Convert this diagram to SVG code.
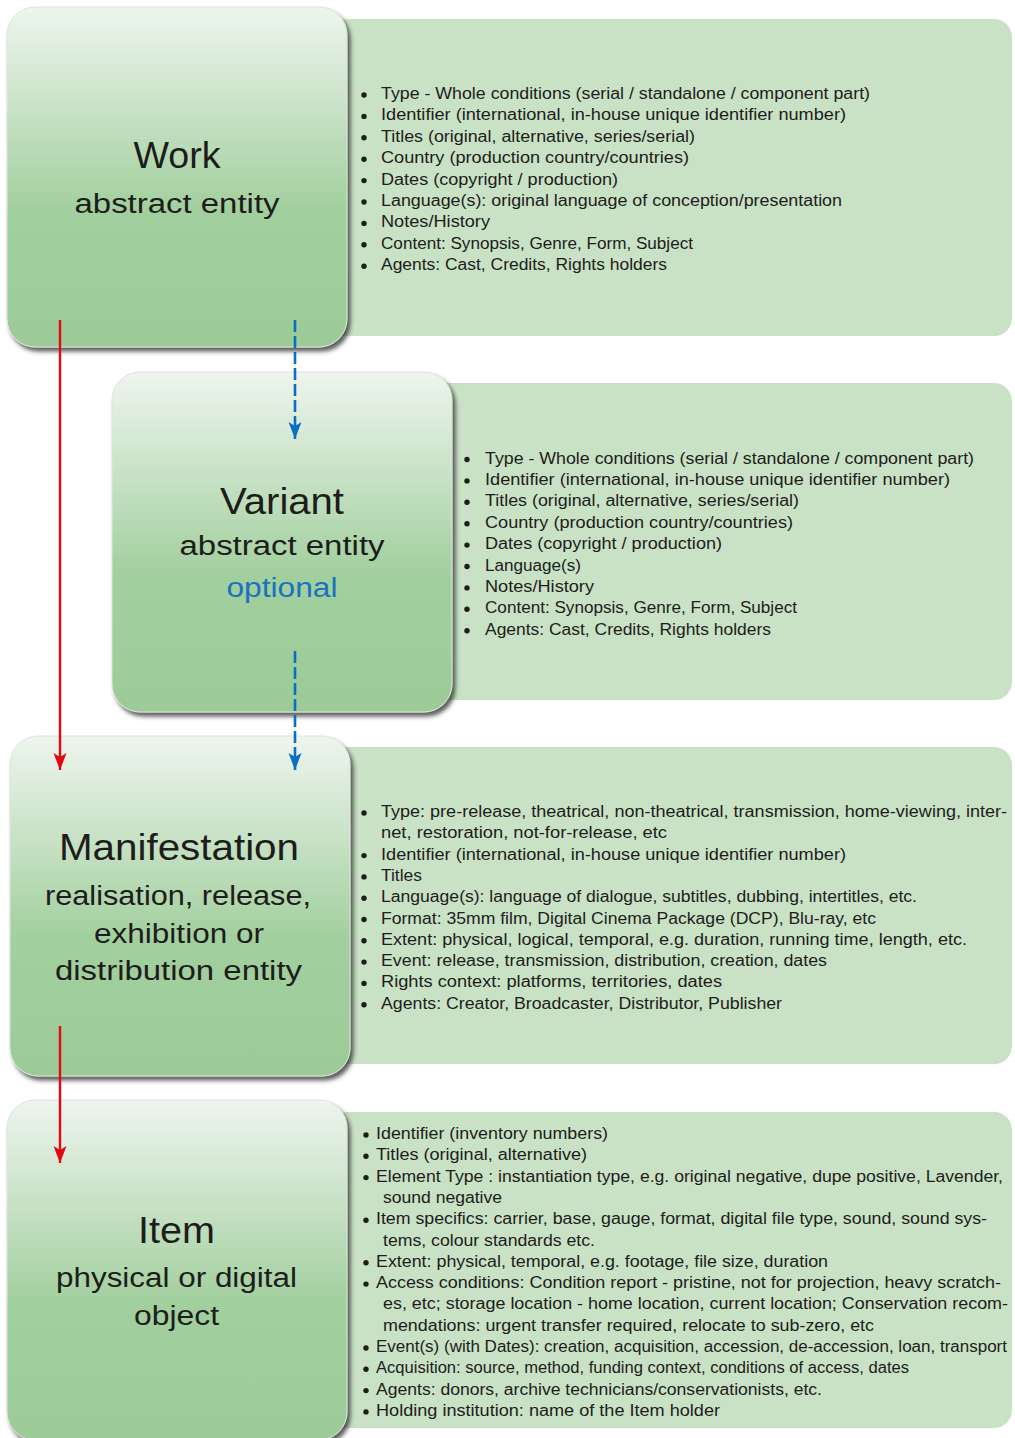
<svg xmlns="http://www.w3.org/2000/svg" width="1015" height="1438" viewBox="0 0 1015 1438">
<style>
.panel{fill:#c9e1c5}
.box{fill:url(#boxGrad);stroke:#dfe3df;stroke-width:1;filter:url(#shadow)}
.li{font-family:"Liberation Sans",Arial,sans-serif;font-size:16px;fill:#1d1d1b}
.t1{font-family:"Liberation Sans",Arial,sans-serif;font-size:36px;fill:#1d1d1b;text-anchor:middle}
.t2{font-family:"Liberation Sans",Arial,sans-serif;font-size:27px;fill:#1d1d1b;text-anchor:middle}
.opt{fill:#1a72c0}
.bul{fill:#1d1d1b}
.red{stroke:#e30613;stroke-width:2.4;fill:none;marker-end:url(#arrRed)}
.blue{stroke:#0a6ec2;stroke-width:2.6;stroke-dasharray:12 4;fill:none;marker-end:url(#arrBlue)}
</style>
<defs>
<linearGradient id="boxGrad" x1="0" y1="0" x2="0" y2="1">
<stop offset="0" stop-color="#eef5ee"/>
<stop offset="0.6" stop-color="#a2cf9e"/>
<stop offset="1" stop-color="#9ccb98"/>
</linearGradient>
<filter id="shadow" x="-10%" y="-10%" width="125%" height="125%">
<feDropShadow dx="3" dy="4" stdDeviation="2.2" flood-color="#2a2a2a" flood-opacity="0.75"/>
</filter>
<marker id="arrRed" markerUnits="userSpaceOnUse" markerWidth="18" markerHeight="14" refX="17" refY="7" orient="auto">
<path d="M0,0.5 L17,7 L0,13.5 L4,7 Z" fill="#e30613"/>
</marker>
<marker id="arrBlue" markerUnits="userSpaceOnUse" markerWidth="18" markerHeight="14" refX="17" refY="7" orient="auto">
<path d="M0,0.5 L17,7 L0,13.5 L4,7 Z" fill="#0a6ec2"/>
</marker>
</defs>
<rect width="1015" height="1438" fill="#ffffff"/>

<g id="work">
<rect class="panel" x="330" y="19" width="682" height="317" rx="18"/>
<rect class="box" x="7" y="7" width="340" height="340" rx="28"/>
<text class="t1" x="177" y="168" textLength="87" lengthAdjust="spacingAndGlyphs">Work</text>
<text class="t2" x="177" y="213" textLength="205" lengthAdjust="spacingAndGlyphs">abstract entity</text>
<g class="bul">
<circle cx="364" cy="95" r="2.7"/><circle cx="364" cy="116.4" r="2.7"/><circle cx="364" cy="137.8" r="2.7"/><circle cx="364" cy="159.2" r="2.7"/><circle cx="364" cy="180.6" r="2.7"/><circle cx="364" cy="202" r="2.7"/><circle cx="364" cy="223.4" r="2.7"/><circle cx="364" cy="244.8" r="2.7"/><circle cx="364" cy="266.2" r="2.7"/>
</g>
<text class="li" x="381" y="99" textLength="489" lengthAdjust="spacingAndGlyphs">Type - Whole conditions (serial / standalone / component part)</text>
<text class="li" x="381" y="120.4" textLength="465" lengthAdjust="spacingAndGlyphs">Identifier (international, in-house unique identifier number)</text>
<text class="li" x="381" y="141.8" textLength="314" lengthAdjust="spacingAndGlyphs">Titles (original, alternative, series/serial)</text>
<text class="li" x="381" y="163.2" textLength="308" lengthAdjust="spacingAndGlyphs">Country (production country/countries)</text>
<text class="li" x="381" y="184.6" textLength="237" lengthAdjust="spacingAndGlyphs">Dates (copyright / production)</text>
<text class="li" x="381" y="206" textLength="461" lengthAdjust="spacingAndGlyphs">Language(s): original language of conception/presentation</text>
<text class="li" x="381" y="227.4" textLength="109" lengthAdjust="spacingAndGlyphs">Notes/History</text>
<text class="li" x="381" y="248.8" textLength="312" lengthAdjust="spacingAndGlyphs">Content: Synopsis, Genre, Form, Subject</text>
<text class="li" x="381" y="270.2" textLength="286" lengthAdjust="spacingAndGlyphs">Agents: Cast, Credits, Rights holders</text>
</g>

<g id="variant">
<rect class="panel" x="430" y="383" width="582" height="317" rx="18"/>
<rect class="box" x="112" y="372" width="340" height="340" rx="28"/>
<text class="t1" x="282" y="514" textLength="124" lengthAdjust="spacingAndGlyphs">Variant</text>
<text class="t2" x="282" y="555" textLength="205" lengthAdjust="spacingAndGlyphs">abstract entity</text>
<text class="t2 opt" x="282" y="597" textLength="111" lengthAdjust="spacingAndGlyphs">optional</text>
<g class="bul">
<circle cx="467" cy="459.5" r="2.7"/><circle cx="467" cy="480.9" r="2.7"/><circle cx="467" cy="502.3" r="2.7"/><circle cx="467" cy="523.7" r="2.7"/><circle cx="467" cy="545.1" r="2.7"/><circle cx="467" cy="566.5" r="2.7"/><circle cx="467" cy="587.9" r="2.7"/><circle cx="467" cy="609.3" r="2.7"/><circle cx="467" cy="630.7" r="2.7"/>
</g>
<text class="li" x="485" y="463.5" textLength="489" lengthAdjust="spacingAndGlyphs">Type - Whole conditions (serial / standalone / component part)</text>
<text class="li" x="485" y="484.9" textLength="465" lengthAdjust="spacingAndGlyphs">Identifier (international, in-house unique identifier number)</text>
<text class="li" x="485" y="506.3" textLength="314" lengthAdjust="spacingAndGlyphs">Titles (original, alternative, series/serial)</text>
<text class="li" x="485" y="527.7" textLength="308" lengthAdjust="spacingAndGlyphs">Country (production country/countries)</text>
<text class="li" x="485" y="549.1" textLength="237" lengthAdjust="spacingAndGlyphs">Dates (copyright / production)</text>
<text class="li" x="485" y="570.5" textLength="96" lengthAdjust="spacingAndGlyphs">Language(s)</text>
<text class="li" x="485" y="591.9" textLength="109" lengthAdjust="spacingAndGlyphs">Notes/History</text>
<text class="li" x="485" y="613.3" textLength="312" lengthAdjust="spacingAndGlyphs">Content: Synopsis, Genre, Form, Subject</text>
<text class="li" x="485" y="634.7" textLength="286" lengthAdjust="spacingAndGlyphs">Agents: Cast, Credits, Rights holders</text>
</g>

<g id="manifestation">
<rect class="panel" x="330" y="747" width="682" height="317" rx="18"/>
<rect class="box" x="10" y="736" width="340" height="340" rx="28"/>
<text class="t1" x="179" y="860" textLength="240" lengthAdjust="spacingAndGlyphs">Manifestation</text>
<text class="t2" x="178" y="905" textLength="266" lengthAdjust="spacingAndGlyphs">realisation, release,</text>
<text class="t2" x="179" y="943" textLength="170" lengthAdjust="spacingAndGlyphs">exhibition or</text>
<text class="t2" x="178.5" y="980" textLength="247" lengthAdjust="spacingAndGlyphs">distribution entity</text>
<g class="bul">
<circle cx="364" cy="813" r="2.7"/><circle cx="364" cy="855.6" r="2.7"/><circle cx="364" cy="876.9" r="2.7"/><circle cx="364" cy="898.2" r="2.7"/><circle cx="364" cy="919.5" r="2.7"/><circle cx="364" cy="940.8" r="2.7"/><circle cx="364" cy="962.1" r="2.7"/><circle cx="364" cy="983.4" r="2.7"/><circle cx="364" cy="1004.7" r="2.7"/>
</g>
<text class="li" x="381" y="817" textLength="626" lengthAdjust="spacingAndGlyphs">Type: pre-release, theatrical, non-theatrical, transmission, home-viewing, inter-</text>
<text class="li" x="381" y="838.3" textLength="286" lengthAdjust="spacingAndGlyphs">net, restoration, not-for-release, etc</text>
<text class="li" x="381" y="859.6" textLength="465" lengthAdjust="spacingAndGlyphs">Identifier (international, in-house unique identifier number)</text>
<text class="li" x="381" y="880.9" textLength="41" lengthAdjust="spacingAndGlyphs">Titles</text>
<text class="li" x="381" y="902.2" textLength="536" lengthAdjust="spacingAndGlyphs">Language(s): language of dialogue, subtitles, dubbing, intertitles, etc.</text>
<text class="li" x="381" y="923.5" textLength="495" lengthAdjust="spacingAndGlyphs">Format: 35mm film, Digital Cinema Package (DCP), Blu-ray, etc</text>
<text class="li" x="381" y="944.8" textLength="586" lengthAdjust="spacingAndGlyphs">Extent: physical, logical, temporal, e.g. duration, running time, length, etc.</text>
<text class="li" x="381" y="966.1" textLength="446" lengthAdjust="spacingAndGlyphs">Event: release, transmission, distribution, creation, dates</text>
<text class="li" x="381" y="987.4" textLength="341" lengthAdjust="spacingAndGlyphs">Rights context: platforms, territories, dates</text>
<text class="li" x="381" y="1008.7" textLength="401" lengthAdjust="spacingAndGlyphs">Agents: Creator, Broadcaster, Distributor, Publisher</text>
</g>

<g id="item">
<rect class="panel" x="330" y="1112" width="682" height="316" rx="18"/>
<rect class="box" x="7" y="1100" width="340" height="340" rx="28"/>
<text class="t1" x="176.5" y="1243" textLength="77" lengthAdjust="spacingAndGlyphs">Item</text>
<text class="t2" x="176.5" y="1287" textLength="241" lengthAdjust="spacingAndGlyphs">physical or digital</text>
<text class="t2" x="176.5" y="1325" textLength="85" lengthAdjust="spacingAndGlyphs">object</text>
<g class="bul">
<circle cx="366" cy="1135" r="2.7"/><circle cx="366" cy="1156.3" r="2.7"/><circle cx="366" cy="1177.6" r="2.7"/><circle cx="366" cy="1220.2" r="2.7"/><circle cx="366" cy="1262.8" r="2.7"/><circle cx="366" cy="1284.1" r="2.7"/><circle cx="366" cy="1348" r="2.7"/><circle cx="366" cy="1369.3" r="2.7"/><circle cx="366" cy="1390.6" r="2.7"/><circle cx="366" cy="1411.9" r="2.7"/>
</g>
<text class="li" x="376" y="1139" textLength="232" lengthAdjust="spacingAndGlyphs">Identifier (inventory numbers)</text>
<text class="li" x="376" y="1160.3" textLength="211" lengthAdjust="spacingAndGlyphs">Titles (original, alternative)</text>
<text class="li" x="376" y="1181.6" textLength="627" lengthAdjust="spacingAndGlyphs">Element Type : instantiation type, e.g. original negative, dupe positive, Lavender,</text>
<text class="li" x="383" y="1202.9" textLength="119" lengthAdjust="spacingAndGlyphs">sound negative</text>
<text class="li" x="376" y="1224.2" textLength="611" lengthAdjust="spacingAndGlyphs">Item specifics: carrier, base, gauge, format, digital file type, sound, sound sys-</text>
<text class="li" x="383" y="1245.5" textLength="212" lengthAdjust="spacingAndGlyphs">tems, colour standards etc.</text>
<text class="li" x="376" y="1266.8" textLength="452" lengthAdjust="spacingAndGlyphs">Extent: physical, temporal, e.g. footage, file size, duration</text>
<text class="li" x="376" y="1288.1" textLength="625" lengthAdjust="spacingAndGlyphs">Access conditions: Condition report - pristine, not for projection, heavy scratch-</text>
<text class="li" x="383" y="1309.4" textLength="625" lengthAdjust="spacingAndGlyphs">es, etc; storage location - home location, current location; Conservation recom-</text>
<text class="li" x="383" y="1330.7" textLength="491" lengthAdjust="spacingAndGlyphs">mendations: urgent transfer required, relocate to sub-zero, etc</text>
<text class="li" x="376" y="1352" textLength="631" lengthAdjust="spacingAndGlyphs">Event(s) (with Dates): creation, acquisition, accession, de-accession, loan, transport</text>
<text class="li" x="376" y="1373.3" textLength="533" lengthAdjust="spacingAndGlyphs">Acquisition: source, method, funding context, conditions of access, dates</text>
<text class="li" x="376" y="1394.6" textLength="446" lengthAdjust="spacingAndGlyphs">Agents: donors, archive technicians/conservationists, etc.</text>
<text class="li" x="376" y="1415.9" textLength="344" lengthAdjust="spacingAndGlyphs">Holding institution: name of the Item holder</text>
</g>

<g id="connectors">
<line class="red" x1="60" y1="320" x2="60" y2="770"/>
<line class="red" x1="60" y1="1026" x2="60" y2="1163"/>
<line class="blue" x1="295" y1="320" x2="295" y2="439"/>
<line class="blue" x1="295" y1="651" x2="295" y2="770"/>
</g>
</svg>
